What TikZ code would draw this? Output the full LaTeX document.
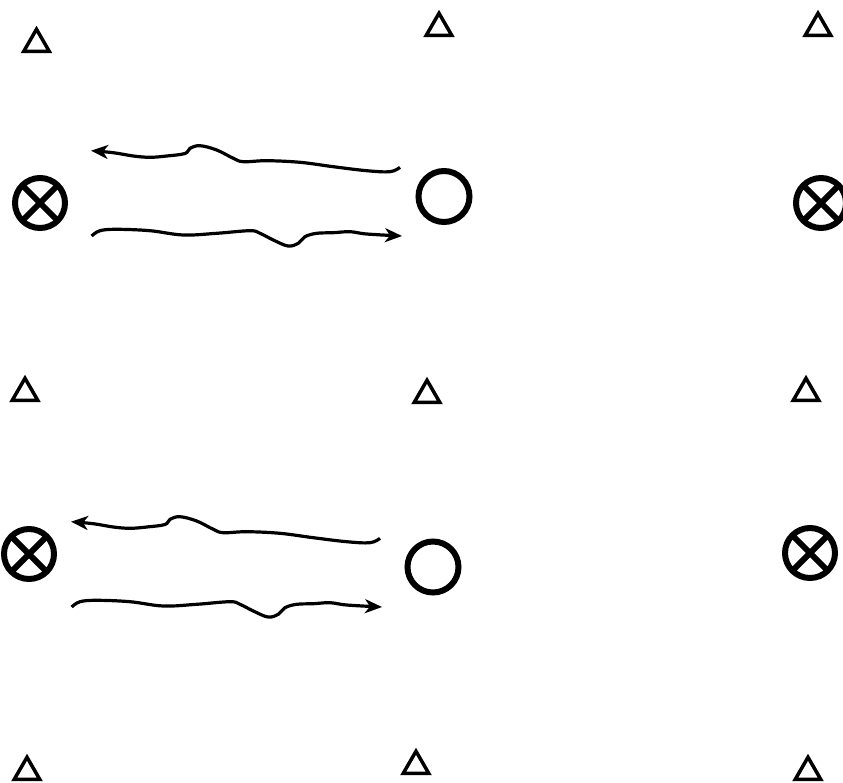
\documentclass[tikz,border=0pt]{standalone}
\usetikzlibrary{shapes.geometric,arrows.meta}
\begin{document}
\begin{tikzpicture}[x=1pt,y=-1pt,
  tri/.style={regular polygon,regular polygon sides=3,draw,line width=3.5pt,minimum size=29.5pt,inner sep=0pt},
  otimes/.style={circle,draw,line width=6pt,minimum size=50pt,inner sep=0pt,
     path picture={\draw[line width=6pt] (path picture bounding box.north east)--(path picture bounding box.south west)
       (path picture bounding box.north west)--(path picture bounding box.south east);}},
  ocirc/.style={circle,draw,line width=6pt,minimum size=51pt,inner sep=0pt},
  wave/.style={line width=3.2pt,-{Stealth[length=17pt,width=14pt,inset=5pt]}}]
\useasboundingbox (0,0) rectangle (843,782);
% triangles
\node[tri] (t1) at (36.5,44) {};
\node[tri] (t2) at (439,28) {};
\node[tri] (t3) at (818,28) {};
\node[tri] (t4) at (25,393) {};
\node[tri] (t5) at (427,395) {};
\node[tri] (t6) at (806,393) {};
\node[tri] (t7) at (27,772) {};
\node[tri] (t8) at (416,766) {};
\node[tri] (t9) at (808,772) {};
% top group
\node[otimes] (x1) at (40,203) {};
\node[ocirc] (o1) at (444,196.5) {};
\node[otimes] (x2) at (821,203) {};
% bottom group
\node[otimes] (x3) at (29,554) {};
\node[ocirc] (o2) at (433,567) {};
\node[otimes] (x4) at (810,553) {};
% waves
\foreach \dx/\dy in {0/0,-20/371}{
\begin{scope}[shift={(\dx,\dy)}]
\draw[wave] plot[smooth,tension=0.6] coordinates {(400,167.3) (390,171.7) (366.7,170.7) (333.3,166.7) (300,162.3) (266.7,160.7) (243.3,161.7) (233.3,158.3) (216.7,150) (200,145.7) (190,148.3) (185,153.5) (166.7,156) (150,157.3) (133.3,156) (113.3,152.7) (91,150.7)};
\draw[wave] plot[smooth,tension=0.6] coordinates {(91.7,236) (100,230.7) (116.7,229.3) (150,230.7) (183.3,235) (216.7,233.3) (250,230.7) (260,233.3) (273.3,240) (288,246) (298.3,243.3) (305,236.7) (316.7,233.3) (333.3,232.7) (350,231.7) (366.7,234) (402,236)};
\end{scope}}
\end{tikzpicture}
\end{document}
